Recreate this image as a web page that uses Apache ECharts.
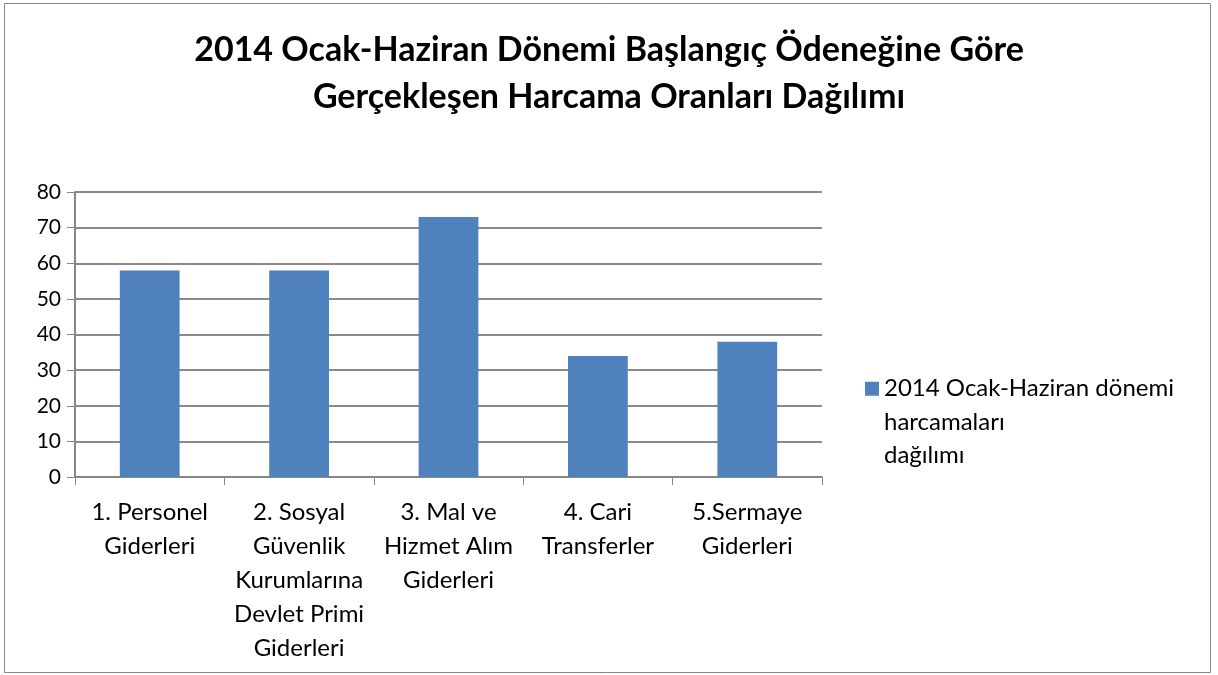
<!DOCTYPE html>
<html>
<head>
<meta charset="utf-8">
<script src="https://cdn.jsdelivr.net/npm/echarts@6/dist/echarts.min.js"></script>
<style>
    html, body { margin: 0; padding: 0; background: #fff; }
    #chart { width: 1218px; height: 675px; }
</style>
</head>
<body>
<div id="chart"></div>
<script>
// kategoriler ve değerler
var categories = [
    '1. Personel\nGiderleri',
    '2. Sosyal\nGüvenlik\nKurumlarına\nDevlet Primi\nGiderleri',
    '3. Mal ve\nHizmet Alım\nGiderleri',
    '4. Cari\nTransferler',
    '5.Sermaye\nGiderleri'
];
var values = [58, 58, 73, 34, 38];
var seriesName = '2014 Ocak-Haziran dönemi harcamaları dağılımı';
var legendText = '2014 Ocak-Haziran dönemi\nharcamaları\ndağılımı';
var titleText = '2014 Ocak-Haziran Dönemi Başlangıç Ödeneğine Göre\nGerçekleşen Harcama Oranları Dağılımı';

var font = 'Lato, "Open Sans", sans-serif';
var myChart = echarts.init(document.getElementById('chart'));

// kare işaret metnin ilk satırına hizalansın diye uzun bir simge yolu
var legendIcon = 'path://M0,0h0.01v0.01h-0.01zM0,9.5h14v14h-14zM0,100h0.01v0.01h-0.01z';

var option = {
    backgroundColor: '#fff',
    animation: false,
    textStyle: { fontFamily: font },
    title: {
        text: titleText,
        left: 'center',
        top: 22,
        textStyle: {
            fontFamily: font,
            fontSize: 34,
            fontWeight: 'bold',
            color: '#000',
            lineHeight: 47
        }
    },
    graphic: [{
        type: 'rect',
        shape: { x: 4.5, y: 3.5, width: 1206, height: 669 },
        style: { fill: null, stroke: '#868686', lineWidth: 1 },
        silent: true
    }],
    legend: {
        orient: 'vertical',
        left: 860,
        top: 367,
        itemWidth: 14,
        itemHeight: 100,
        itemGap: 10,
        icon: legendIcon,
        formatter: function () {
            return legendText;
        },
        textStyle: {
            fontFamily: font,
            fontSize: 24,
            color: '#000',
            lineHeight: 33.5
        }
    },
    grid: {
        left: 75,
        right: 396,
        top: 192,
        bottom: 198,
        show: false
    },
    xAxis: {
        type: 'category',
        data: categories,
        axisLine: { lineStyle: { color: '#868686', width: 1.5 } },
        axisTick: { show: true, length: 8, inside: false, lineStyle: { color: '#868686' } },
        axisLabel: {
            fontFamily: font,
            fontSize: 24,
            color: '#000',
            lineHeight: 34,
            margin: 18,
            interval: 0
        }
    },
    yAxis: {
        type: 'value',
        min: 0,
        max: 80,
        interval: 10,
        axisLine: { show: true, lineStyle: { color: '#868686', width: 2 } },
        axisTick: { show: true, length: 8, lineStyle: { color: '#868686' } },
        axisLabel: {
            fontFamily: font,
            fontSize: 21,
            color: '#000',
            margin: 14
        },
        splitLine: { lineStyle: { color: '#8a8a8a', width: 2 } }
    },
    series: [{
        name: seriesName,
        type: 'bar',
        data: values,
        barWidth: '40%',
        itemStyle: { color: '#4f81bd' }
    }]
};

myChart.setOption(option);
</script>
</body>
</html>
